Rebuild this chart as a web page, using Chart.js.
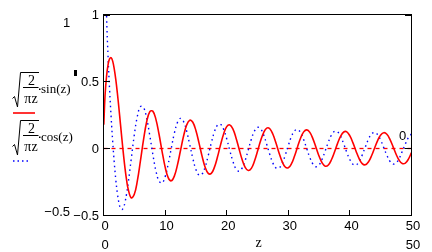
<!DOCTYPE html>
<html>
<head>
<meta charset="utf-8">
<script src="https://cdn.jsdelivr.net/npm/chart.js@4.4.1/dist/chart.umd.min.js"></script>
<style>
html, body { margin: 0; padding: 0; background: #fff; }
</style>
</head>
<body>
<canvas id="myChart" width="432" height="252"></canvas>
<script>
// z values read along the horizontal axis
var zValues = [
    0.05, 0.25, 0.5, 0.75, 1, 1.25, 1.5, 1.75, 2, 2.25, 2.5, 2.75, 3, 3.25, 3.5, 3.75, 4,
    4.5, 5, 5.5, 6, 6.5, 7, 7.5, 8, 8.5, 9, 9.5, 10,
    10.5, 11, 11.5, 12, 12.5, 13, 13.5, 14, 14.5, 15, 15.5, 16, 16.5, 17, 17.5, 18, 18.5, 19, 19.5, 20,
    20.5, 21, 21.5, 22, 22.5, 23, 23.5, 24, 24.5, 25, 25.5, 26, 26.5, 27, 27.5, 28, 28.5, 29, 29.5, 30,
    30.5, 31, 31.5, 32, 32.5, 33, 33.5, 34, 34.5, 35, 35.5, 36, 36.5, 37, 37.5, 38, 38.5, 39, 39.5, 40,
    40.5, 41, 41.5, 42, 42.5, 43, 43.5, 44, 44.5, 45, 45.5, 46, 46.5, 47, 47.5, 48, 48.5, 49, 49.5, 50
];
// red solid curve: sqrt(2/(pi z)) sin(z)
var sinSeries = [
    0.178, 0.395, 0.541, 0.628, 0.671, 0.677, 0.650, 0.593, 0.513, 0.414, 0.302, 0.184, 0.065, -0.048, -0.150, -0.236, -0.302,
    -0.368, -0.342, -0.240, -0.091, 0.067, 0.198, 0.273, 0.279, 0.219, 0.110, -0.019, -0.137,
    -0.217, -0.241, -0.206, -0.124, -0.015, 0.093, 0.175, 0.211, 0.196, 0.134, 0.042, -0.057, -0.140, -0.186, -0.186, -0.141, -0.064, 0.027, 0.109, 0.163,
    0.176, 0.146, 0.081, -0.002, -0.082, -0.141, -0.164, -0.148, -0.095, -0.021, 0.057, 0.119, 0.152, 0.147, 0.106, 0.041, -0.033, -0.098, -0.138, -0.144,
    -0.115, -0.058, 0.012, 0.078, 0.124, 0.139, 0.120, 0.072, 0.008, -0.058, -0.108, -0.132, -0.123, -0.084, -0.026, 0.038, 0.092, 0.123, 0.124, 0.094,
    0.042, -0.020, -0.076, -0.113, -0.122, -0.101, -0.056, 0.002, 0.059, 0.101, 0.118, 0.106, 0.068, 0.014, -0.043, -0.088, -0.112, -0.109, -0.079, -0.030
];
// blue dotted curve: sqrt(2/(pi z)) cos(z)
var cosSeries = [
    3.564, 1.546, 0.990, 0.674, 0.431, 0.225, 0.046, -0.107, -0.235, -0.334, -0.404, -0.445, -0.456, -0.440, -0.399, -0.338, -0.261,
    -0.079, 0.101, 0.241, 0.313, 0.306, 0.227, 0.101, -0.041, -0.165, -0.242, -0.258, -0.212,
    -0.117, 0.001, 0.114, 0.194, 0.225, 0.201, 0.129, 0.029, -0.074, -0.156, -0.198, -0.191, -0.138, -0.053, 0.042, 0.124, 0.174, 0.181, 0.144, 0.073,
    -0.014, -0.095, -0.152, -0.170, -0.147, -0.089, -0.010, 0.069, 0.130, 0.158, 0.147, 0.101, 0.031, -0.045, -0.109, -0.145, -0.146, -0.111, -0.050, 0.022,
    0.088, 0.131, 0.142, 0.118, 0.065, -0.002, -0.068, -0.116, -0.136, -0.122, -0.079, -0.017, 0.048, 0.100, 0.128, 0.124, 0.090, 0.034, -0.029, -0.084,
    -0.118, -0.123, -0.098, -0.049, 0.011, 0.068, 0.107, 0.120, 0.104, 0.062, 0.006, -0.051, -0.095, -0.116, -0.108, -0.074, -0.022, 0.034, 0.082, 0.109
];
var xRange = [0, 50];
var yRange = [-0.5, 1];
var xTicks = [0, 10, 20, 30, 40, 50];
var yTicks = [1, 0.5, 0, -0.5];
var markerValue = 0;

function points(ys) {
    return zValues.map(function (z, i) { return {x: z, y: ys[i]}; });
}
function fmt(v) {
    return v < 0 ? '\u2212' + String(-v) : String(v);
}

var numFont = '13px "Liberation Sans Narrow", "Liberation Sans", Arial, sans-serif';
var mathFont = '14px "Liberation Serif", "Times New Roman", serif';
var fnFont = '13px "Liberation Serif", "Times New Roman", serif';

// sqrt(2/(pi z)) . fn(z) label with its line sample underneath
function drawLabel(c, y0, fn, color, dash) {
    c.strokeStyle = '#000';
    c.lineWidth = 1;
    c.setLineDash([]);
    c.beginPath();
    c.moveTo(12.5, y0 + 26.5);
    c.lineTo(14.5, y0 + 24.5);
    c.lineTo(17.5, y0 + 35);
    c.lineTo(20.5, y0 + 0.5);
    c.lineTo(39, y0 + 0.5);
    c.stroke();
    c.beginPath();
    c.moveTo(23, y0 + 15.5);
    c.lineTo(38.5, y0 + 15.5);
    c.stroke();
    c.fillStyle = '#000';
    c.font = mathFont;
    c.textAlign = 'center';
    c.textBaseline = 'alphabetic';
    c.fillText('2', 31.5, y0 + 12.5);
    c.fillText('\u03c0z', 31, y0 + 31);
    c.fillRect(39, y0 + 16.5, 1.5, 1.5);
    c.font = fnFont;
    c.textAlign = 'left';
    c.fillText(fn + '(z)', 41, y0 + 21);
    c.strokeStyle = color;
    c.lineWidth = 1.6;
    c.setLineDash(dash);
    c.beginPath();
    c.moveTo(13, y0 + 41);
    c.lineTo(dash.length ? 31 : 35, y0 + 41);
    c.stroke();
    c.setLineDash([]);
}

var mathcadFrame = {
    id: 'mathcadFrame',
    afterDraw: function (chart) {
        var c = chart.ctx, a = chart.chartArea;
        var xs = chart.scales.x, ys = chart.scales.y;
        c.save();
        c.strokeStyle = '#000';
        c.fillStyle = '#000';
        c.lineWidth = 1;
        c.strokeRect(a.left, a.top, a.right - a.left, a.bottom - a.top);
        c.fillRect(103, 14, 7, 2);
        c.fillRect(405, 14, 7, 2);

        // inward ticks
        c.beginPath();
        yTicks.forEach(function (v) {
            var p = Math.round(ys.getPixelForValue(v) - 0.5) + 0.5;
            c.moveTo(a.left, p);
            c.lineTo(a.left + 6.5, p);
        });
        xTicks.forEach(function (v) {
            var p = Math.round(xs.getPixelForValue(v) - 0.5) + 0.5;
            c.moveTo(p, a.bottom);
            c.lineTo(p, a.bottom - 5.5);
        });
        var m = Math.round(ys.getPixelForValue(markerValue) - 0.5) + 0.5;
        c.moveTo(a.right - 7, m);
        c.lineTo(a.right, m);
        c.stroke();

        // tick labels
        c.font = numFont;
        c.textBaseline = 'middle';
        c.textAlign = 'right';
        yTicks.forEach(function (v) {
            c.fillText(fmt(v), 99, ys.getPixelForValue(v) + 1);
        });
        c.textAlign = 'center';
        xTicks.forEach(function (v) {
            c.fillText(fmt(v), xs.getPixelForValue(v) + 1.5, 226);
        });

        // range labels outside the plot
        c.fillText(fmt(yRange[1]), 66.5, 23.5);
        c.textAlign = 'right';
        c.fillText(fmt(yRange[0]), 70, 212.5);
        c.textAlign = 'center';
        c.fillText(fmt(xRange[0]), xs.getPixelForValue(xRange[0]) + 1.5, 245);
        c.fillText(fmt(xRange[1]), xs.getPixelForValue(xRange[1]) + 1.5, 245);
        c.fillText(fmt(markerValue), 402.5, 136);
        c.font = mathFont;
        c.fillText('z', (a.left + a.right) / 2 + 1, 243);

        // cursor mark
        c.fillRect(74, 70, 3, 6);

        drawLabel(c, 72, 'sin', '#ff0000', []);
        drawLabel(c, 120, 'cos', '#0000ff', [1.5, 3]);
        c.restore();
    }
};

var ctx = document.getElementById('myChart');
var myChart = new Chart(ctx, {
    type: 'line',
    data: {
        datasets: [
            {
                data: points(sinSeries),
                borderColor: '#ff0000',
                borderWidth: 1.6,
                tension: 0.4,
                fill: false
            },
            {
                data: points(cosSeries),
                borderColor: '#0000ff',
                borderWidth: 1.4,
                borderDash: [1.5, 3.5],
                tension: 0.4,
                fill: false
            },
            {
                data: [{x: xRange[0], y: markerValue}, {x: xRange[1], y: markerValue}],
                borderColor: '#ff0000',
                borderWidth: 1.3,
                borderDash: [4, 4],
                fill: false
            }
        ]
    },
    options: {
        responsive: false,
        animation: false,
        events: [],
        layout: {padding: {left: 103.5, right: 20.5, top: 14.5, bottom: 36.5}},
        elements: {point: {radius: 0}},
        plugins: {
            legend: {display: false},
            tooltip: {enabled: false}
        },
        scales: {
            x: {type: 'linear', min: xRange[0], max: xRange[1], display: false},
            y: {type: 'linear', min: yRange[0], max: yRange[1], display: false}
        }
    },
    plugins: [mathcadFrame]
});
</script>
</body>
</html>
